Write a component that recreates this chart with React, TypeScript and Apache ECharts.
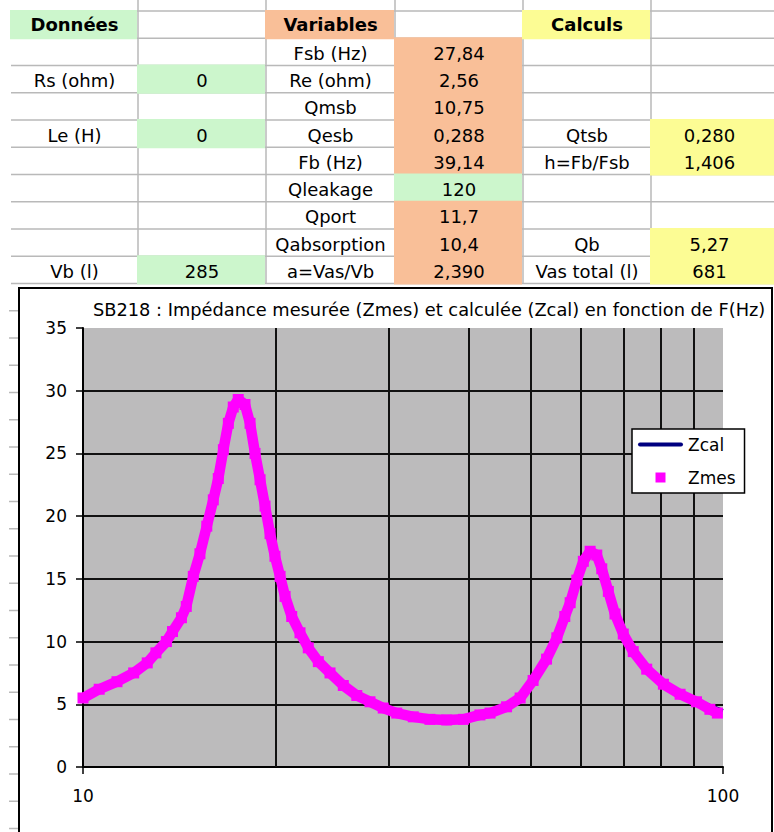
import React, { useEffect, useRef } from "react";
import * as echarts from "echarts";

// ---------- Spreadsheet table (text content) ----------
const colDonnees = ["Données", "", "Rs (ohm)", "", "Le (H)", "", "", "", "", "Vb (l)"];
const colDonneesVal = ["", "", "0", "", "0", "", "", "", "", "285"];
const colVariables = ["Variables", "Fsb (Hz)", "Re (ohm)", "Qmsb", "Qesb", "Fb (Hz)", "Qleakage", "Qport", "Qabsorption", "a=Vas/Vb"];
const colVariablesVal = ["", "27,84", "2,56", "10,75", "0,288", "39,14", "120", "11,7", "10,4", "2,390"];
const colCalculs = ["Calculs", "", "", "", "Qtsb", "h=Fb/Fsb", "", "", "Qb", "Vas total (l)"];
const colCalculsVal = ["", "", "", "", "0,280", "1,406", "", "", "5,27", "681"];

// ---------- Chart data ----------
const chartTitle = "SB218 : Impédance mesurée (Zmes) et calculée (Zcal) en fonction de F(Hz)";
const zmesFreq = [10.0, 10.6, 11.3, 12.0, 12.6, 13.0, 13.5, 13.8, 14.25, 14.5, 14.87, 15.23, 15.61, 15.98, 16.27, 16.57, 16.87, 17.17, 17.48, 17.91, 18.24, 18.57, 18.91, 19.25, 19.6, 19.95, 20.32, 20.69, 21.19, 21.83, 22.49, 23.32, 24.32, 25.51, 26.78, 28.08, 29.45, 30.92, 32.81, 34.84, 37.0, 39.3, 41.7, 43.25, 45.9, 48.2, 50.5, 53.0, 55.0, 56.6, 57.7, 59.1, 60.5, 62.0, 63.5, 64.65, 66.2, 67.8, 69.85, 72.4, 76.0, 80.7, 85.7, 90.9, 95.4, 98.0];
const zmesVal = [5.5, 6.2, 6.8, 7.5, 8.3, 9.1, 10.0, 10.8, 11.9, 12.8, 15.2, 17.0, 19.2, 21.3, 23.0, 25.3, 27.4, 28.7, 29.3, 28.9, 27.4, 25.0, 22.9, 20.8, 18.6, 16.8, 15.2, 13.6, 12.0, 10.7, 9.5, 8.4, 7.5, 6.5, 5.7, 5.2, 4.7, 4.3, 4.0, 3.8, 3.75, 3.8, 4.15, 4.3, 4.8, 5.5, 6.9, 8.6, 10.3, 12.0, 13.1, 14.9, 16.4, 17.2, 16.9, 15.8, 14.0, 12.2, 10.6, 9.2, 7.8, 6.6, 5.8, 5.2, 4.6, 4.3];
const zcalFreq = [10.0, 10.6, 11.3, 12.0, 12.6, 13.0, 13.5, 13.8, 14.25, 14.5, 14.87, 15.23, 15.61, 15.98, 16.27, 16.57, 16.87, 17.17, 17.48, 17.91, 18.24, 18.57, 18.91, 19.25, 19.6, 19.95, 20.32, 20.69, 21.19, 21.83, 22.49, 23.32, 24.32, 25.51, 26.78, 28.08, 29.45, 30.92, 32.81, 34.84, 37.0, 39.3, 41.7, 43.25, 45.9, 48.2, 50.5, 53.0, 55.0, 56.6, 57.7, 59.1, 60.5, 62.0, 63.5, 64.65, 66.2, 67.8, 69.85, 72.4, 76.0, 80.7, 85.7, 90.9, 95.4, 100.0];
const zcalVal = [5.4, 6.1, 6.8, 7.5, 8.3, 9.1, 10.0, 10.8, 11.9, 12.9, 15.2, 17.0, 19.2, 21.3, 23.0, 25.3, 27.4, 28.7, 29.3, 28.9, 27.4, 25.0, 22.9, 20.8, 18.6, 16.8, 15.2, 13.6, 12.0, 10.6, 9.4, 8.3, 7.4, 6.4, 5.6, 5.0, 4.6, 4.3, 4.0, 3.8, 3.75, 3.8, 4.05, 4.2, 4.6, 5.4, 6.8, 8.6, 10.3, 12.0, 13.1, 14.9, 16.4, 17.2, 16.9, 15.8, 14.0, 12.3, 10.7, 9.3, 8.0, 6.8, 6.0, 5.4, 4.9, 4.5];
const gridFreqs = [20, 30, 40, 50, 60, 70, 80, 90];

// ---------- Layout constants (not data) ----------
const COLS = [11, 138, 266, 395, 523, 651, 776];
const TOP = 11;
const ROW_H = 27.25;
const FILL: Record<string, string> = { g: "#ccf6cc", o: "#f9bf98", y: "#fcfc94" };
const fillCodes = [
  ["g", "", "", "", "", "", "", "", "", ""],
  ["", "", "g", "", "g", "", "", "", "", "g"],
  ["o", "", "", "", "", "", "", "", "", ""],
  ["", "o", "o", "o", "o", "o", "g", "o", "o", "o"],
  ["y", "", "", "", "", "", "", "", "", ""],
  ["", "", "", "", "y", "y", "", "", "y", "y"],
];
const FONT = '"DejaVu Sans", sans-serif';

function buildGraphics() {
  const els: any[] = [];
  const texts = [colDonnees, colDonneesVal, colVariables, colVariablesVal, colCalculs, colCalculsVal];
  const grey = "#b9b9b9";
  for (let k = 0; k <= 10; k++) {
    const y = TOP + k * ROW_H;
    els.push({ type: "line", shape: { x1: 11, y1: y, x2: 774, y2: y }, style: { stroke: grey, lineWidth: 1.5 }, silent: true });
  }
  for (let k = 11; k <= 30; k++) {
    const y = TOP + k * ROW_H;
    els.push({ type: "line", shape: { x1: 9, y1: y, x2: 19, y2: y }, style: { stroke: grey, lineWidth: 1.5 }, silent: true });
  }
  for (let c = 1; c <= 5; c++) {
    els.push({ type: "line", shape: { x1: COLS[c], y1: 0, x2: COLS[c], y2: TOP + 10 * ROW_H }, style: { stroke: grey, lineWidth: 1.5 }, silent: true });
  }
  for (let c = 0; c < 6; c++) {
    for (let r = 0; r < 10; r++) {
      const code = fillCodes[c][r];
      if (!code) continue;
      els.push({
        type: "rect",
        shape: { x: COLS[c] - 1, y: TOP + r * ROW_H - 1, width: COLS[c + 1] - COLS[c], height: ROW_H + 2 },
        style: { fill: FILL[code] },
        silent: true,
      });
    }
  }
  for (let c = 0; c < 6; c++) {
    for (let r = 0; r < 10; r++) {
      const t = texts[c][r];
      if (!t) continue;
      const bold = r === 0;
      els.push({
        type: "text",
        x: (COLS[c] + Math.min(COLS[c + 1], 774)) / 2 + (c === 5 ? -3 : 0),
        y: TOP + r * ROW_H + ROW_H / 2 + (bold ? 0 : 1.5),
        style: {
          text: t,
          fill: "#000",
          font: `${bold ? "bold " : ""}18px ${FONT}`,
          textAlign: "center",
          textVerticalAlign: "middle",
        },
        silent: true,
      });
    }
  }
  els.push({
    type: "rect",
    shape: { x: 19, y: 288, width: 753, height: 600 },
    style: { fill: "none", stroke: "#000", lineWidth: 2 },
    silent: true,
  });
  return els;
}

export default function App() {
  const ref = useRef<HTMLDivElement>(null);
  useEffect(() => {
    document.body.style.margin = "0";
    const chart = echarts.init(ref.current!, null, { renderer: "svg" });
    const zmes = zmesFreq.map((f, i) => [f, zmesVal[i]]);
    const zcal = zcalFreq.map((f, i) => [f, zcalVal[i]]);
    chart.setOption({
      animation: false,
      backgroundColor: "#fff",
      title: {
        text: chartTitle,
        left: 93,
        top: 300,
        padding: 0,
        textStyle: { fontFamily: FONT, fontSize: 17.8, fontWeight: "normal", color: "#000", lineHeight: 18 },
      },
      legend: {
        orient: "vertical",
        left: 632,
        top: 429,
        padding: [7, 9, 7, 6],
        itemGap: 16,
        itemWidth: 45,
        itemHeight: 10,
        selectedMode: false,
        backgroundColor: "#fff",
        borderColor: "#000",
        borderWidth: 1.5,
        borderRadius: 0,
        textStyle: { fontFamily: FONT, fontSize: 17, color: "#000" },
        data: [
          { name: "Zcal", icon: "path://M2,0 L43,0 Q45,0 45,2 Q45,4 43,4 L2,4 Q0,4 0,2 Q0,0 2,0 Z" },
          { name: "Zmes", icon: "path://M0,0L10,0L10,10L0,10Z" },
        ],
      },
      grid: {
        left: 83,
        top: 328,
        width: 640,
        height: 439,
        show: true,
        backgroundColor: "#bcbbbc",
        borderWidth: 0,
      },
      xAxis: {
        type: "log",
        logBase: 10,
        min: 10,
        max: 100,
        axisLine: { show: true, lineStyle: { color: "#000", width: 2 } },
        axisTick: { show: true, length: 7, lineStyle: { color: "#000", width: 1.5 } },
        axisLabel: { margin: 20, fontFamily: FONT, fontSize: 17, color: "#000" },
        splitLine: { show: false },
      },
      yAxis: {
        type: "value",
        min: 0,
        max: 35,
        interval: 5,
        axisLine: { show: true, lineStyle: { color: "#000", width: 2 } },
        axisTick: { show: true, length: 7, lineStyle: { color: "#000", width: 1.5 } },
        axisLabel: { margin: 16, fontFamily: FONT, fontSize: 17, color: "#000" },
        splitLine: { show: true, showMaxLine: false, lineStyle: { color: "#111", width: 2 } },
      },
      series: [
        {
          name: "Zcal",
          type: "line",
          data: zcal,
          showSymbol: false,
          symbol: "none",
          z: 2,
          lineStyle: { color: "#000080", width: 3.5 },
          itemStyle: { color: "#000080" },
          markLine: {
            z: 1,
            silent: true,
            symbol: "none",
            label: { show: false },
            lineStyle: { color: "#111", width: 2, type: "solid" },
            data: gridFreqs.map((f) => ({ xAxis: f })),
          },
        },
        {
          name: "Zmes",
          type: "line",
          data: zmes,
          z: 3,
          symbol: "rect",
          symbolSize: 11,
          showSymbol: true,
          lineStyle: { color: "#ff00ff", width: 10.5 },
          itemStyle: { color: "#ff00ff" },
        },
      ],
      graphic: buildGraphics(),
    });
    return () => chart.dispose();
  }, []);
  return <div ref={ref} style={{ position: "absolute", left: 0, top: 0, width: 774, height: 832 }} />;
}
